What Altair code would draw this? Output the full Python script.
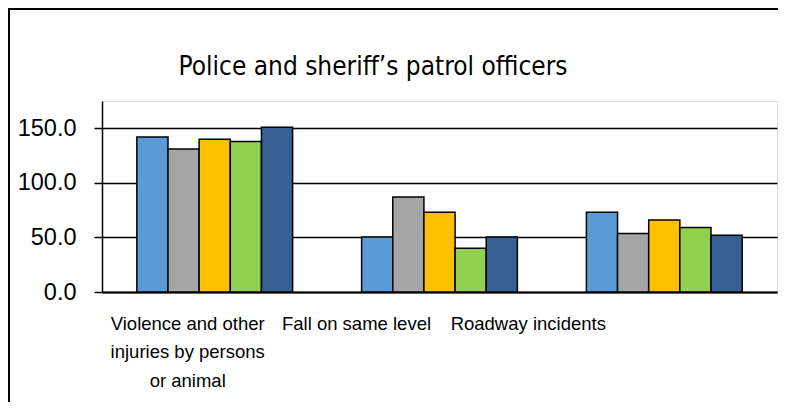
import altair as alt
import pandas as pd

categories = [
    "Violence and other|injuries by persons|or animal",
    "Fall on same level",
    "Roadway incidents",
]
series = ["2011", "2012", "2013", "2014", "2015"]
values = {
    "2011": [142, 50.5, 73],
    "2012": [131, 87, 53.5],
    "2013": [140, 73, 66],
    "2014": [138, 40, 59],
    "2015": [151, 50.5, 52],
}
colors = ["#5B9BD5", "#A5A5A5", "#FFC000", "#92D050", "#366092"]
label_shift = [-27, -83, -136]
title_text = "Police and sheriff’s patrol officers"

rows = []
for s in series:
    for c, v in zip(categories, values[s]):
        rows.append({"category": c, "series": s, "value": v})
df = pd.DataFrame(rows)

bars = alt.Chart(df).mark_bar(stroke="black", strokeWidth=1.5).encode(
    x=alt.X(
        "category:N",
        sort=categories,
        scale=alt.Scale(paddingInner=0.307, paddingOuter=0.155),
        axis=alt.Axis(
            title=None,
            labelAngle=0,
            ticks=False,
            domain=True,
            domainColor="black",
            domainWidth=2,
            labelFont="Liberation Sans",
            labelFontSize=18.5,
            labelColor="black",
            labelPadding=22,
            labelLineHeight=28.7,
            labelLimit=0,
            labelExpr="split(datum.label, '|')",
            labelOffset={
                "condition": [
                    {"test": f"datum.value == '{categories[0]}'", "value": label_shift[0]},
                    {"test": f"datum.value == '{categories[1]}'", "value": label_shift[1]},
                ],
                "value": label_shift[2],
            },
        ),
    ),
    xOffset=alt.XOffset("series:N", sort=series, scale=alt.Scale(paddingInner=0, paddingOuter=0)),
    y=alt.Y(
        "value:Q",
        scale=alt.Scale(domain=[0, 175], nice=False),
        axis=alt.Axis(
            title=None,
            values=[0, 50, 100, 150],
            format=".1f",
            grid=True,
            gridColor="black",
            gridWidth=1.5,
            domainColor="black",
            domainWidth=1.5,
            tickColor="black",
            tickWidth=1.5,
            tickSize=8,
            labelFont="Liberation Sans",
            labelFontSize=23.5,
            labelColor="black",
            labelPadding=18,
        ),
    ),
    color=alt.Color("series:N", sort=series, scale=alt.Scale(domain=series, range=colors), legend=None),
)

one = pd.DataFrame({"a": [0]})
frame_top = alt.Chart(one).mark_rule(color="black", strokeWidth=2).encode(
    x=alt.value(-94),
    x2=alt.value(676),
    y=alt.value(-92),
)
frame_left = alt.Chart(one).mark_rule(color="black", strokeWidth=2).encode(
    x=alt.value(-93),
    y=alt.value(-93),
    y2=alt.value(305),
)

title = alt.Chart(pd.DataFrame({"t": [title_text]})).mark_text(
    font="DejaVu Sans Condensed",
    fontSize=26,
    color="black",
    align="center",
    baseline="alphabetic",
).encode(
    text="t:N",
    x=alt.value(271),
    y=alt.value(-26),
)

chart = alt.layer(frame_top, frame_left, bars, title).properties(
    width=675,
    height=191,
    autosize=alt.AutoSizeParams(type="none"),
    padding={"left": 94, "top": 93, "right": 3, "bottom": 110},
).configure_view(stroke="transparent", strokeWidth=0).configure(background="white")

chart.save("out.html", embed_options={"renderer": "svg", "actions": False})
